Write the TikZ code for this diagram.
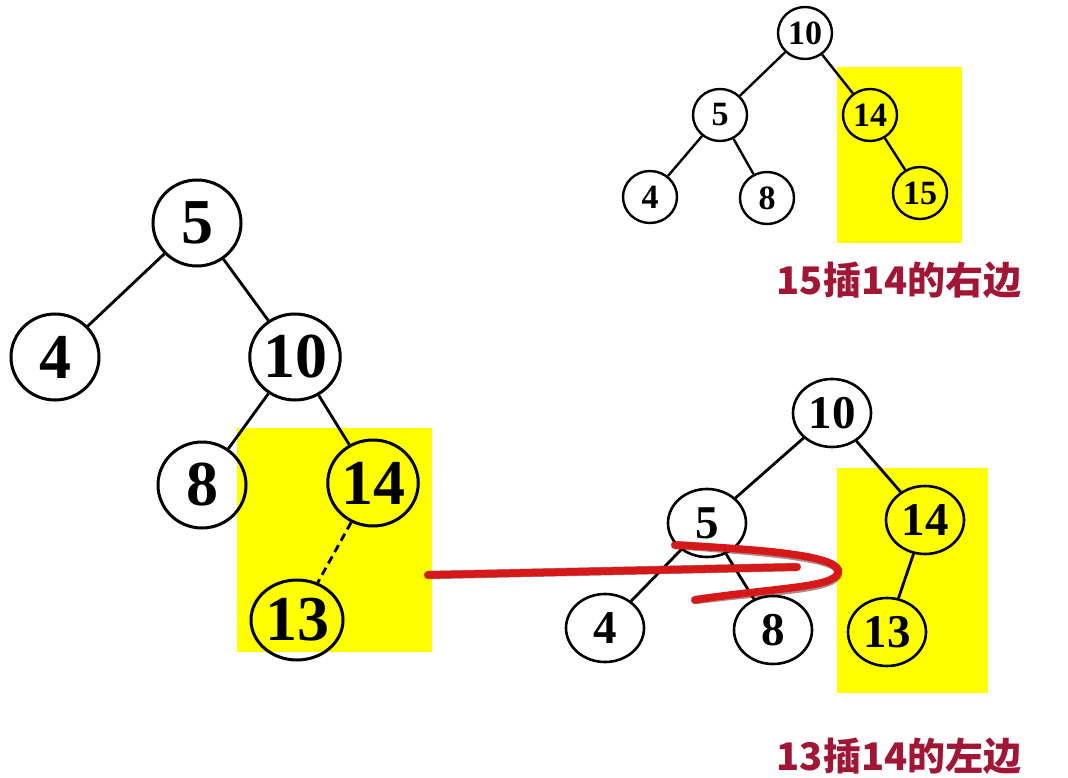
\documentclass[tikz,border=0pt]{standalone}
\usepackage{fontspec}
\setmainfont{Liberation Serif}
\newfontfamily\cjk{Noto Sans CJK SC}
\usetikzlibrary{shapes.geometric}
\definecolor{hlyellow}{RGB}{255,255,0}
\definecolor{lblred}{RGB}{160,22,52}
\definecolor{penred}{RGB}{214,24,24}

\begin{document}
\begin{tikzpicture}[x=1pt,y=-1pt, line width=2.8pt,
  bignode/.style={draw,ellipse,line width=3pt,minimum width=88pt,minimum height=86pt,inner sep=0pt,font=\fontsize{64}{64}\selectfont\bfseries},
  midnode/.style={draw,ellipse,line width=2.6pt,minimum width=78pt,minimum height=68pt,inner sep=0pt,font=\fontsize{47}{47}\selectfont\bfseries},
  smallnode/.style={draw,ellipse,line width=2.4pt,minimum width=54pt,minimum height=52pt,inner sep=0pt,font=\fontsize{34}{34}\selectfont\bfseries},
  hl/.style={fill=hlyellow,draw=none,inner sep=0pt},
  lbl/.style={text=lblred,font=\fontsize{38}{38}\selectfont\cjk\bfseries},
  pen/.style={draw=penred,line width=7.5pt,line cap=round},
  penshade/.style={draw=black!70!red,opacity=.45,line width=8.5pt,line cap=round,shift={(1.5,2)}}]
  \fill[white] (0,0) rectangle (1068,778); \useasboundingbox (0,0) rectangle (1068,778);
  % yellow highlights
  \node[hl,minimum width=125pt,minimum height=176pt] (hlb) at (899.5,155) {};
  \node[hl,minimum width=195pt,minimum height=224pt] (hla) at (334.5,540) {};
  \node[hl,minimum width=151pt,minimum height=225pt] (hlc) at (912.5,580.5) {};
  % left tree
  \foreach \n/\x/\y in {5/197/223,4/55/357,10/295/357,8/202/485,14/373/483}\node[bignode] (a\n) at (\x,\y){\n};
  \node[bignode,minimum width=92pt,minimum height=80pt] (a13) at (297,620){13};
  \draw(a5)--(a4);\draw(a5)--(a10);\draw(a10)--(a8);\draw(a10)--(a14);
  \draw[dashed,dash pattern=on 8pt off 5pt](a14)--(a13);
  % top right tree
  \foreach \n/\x/\y in {10/805/33,5/720/115,14/870/115,4/650/197,8/767/198,15/920/193}\node[smallnode] (b\n) at (\x,\y){\n};
  \draw[line width=2.4pt](b10)--(b5);\draw[line width=2.4pt](b10)--(b14);\draw[line width=2.4pt](b5)--(b4);\draw[line width=2.4pt](b5)--(b8);\draw[line width=2.4pt](b14)--(b15);
  % bottom right tree
  \foreach \n/\x/\y in {10/832/413,5/707/523,14/925/520,4/605/628,8/773/630,13/887/632}\node[midnode] (c\n) at (\x,\y){\n};
  \draw(c10)--(c5);\draw(c10)--(c14);\draw(c5)--(c4);\draw(c5)--(c8);\draw(c14)--(c13);
  % red stroke
  \coordinate (r0) at (428,575); \coordinate (r1) at (797,567);
  \coordinate (h0) at (675,545); \coordinate (tip) at (838,573); \coordinate (h1) at (695,600);
  \draw[penshade](r0)--(r1);
  \draw[penshade](h0) .. controls (770,550) and (842,556) .. (tip) .. controls (834,588) and (770,588) .. (h1);
  \draw[pen](r0)--(r1);
  \draw[pen](h0) .. controls (770,550) and (842,556) .. (tip) .. controls (834,588) and (770,588) .. (h1);
  % captions
  \node[lbl] (t1) at (899,280) {15插14的右边};
  \node[lbl] (t2) at (899,756) {13插14的左边};
\end{tikzpicture}
\end{document}
